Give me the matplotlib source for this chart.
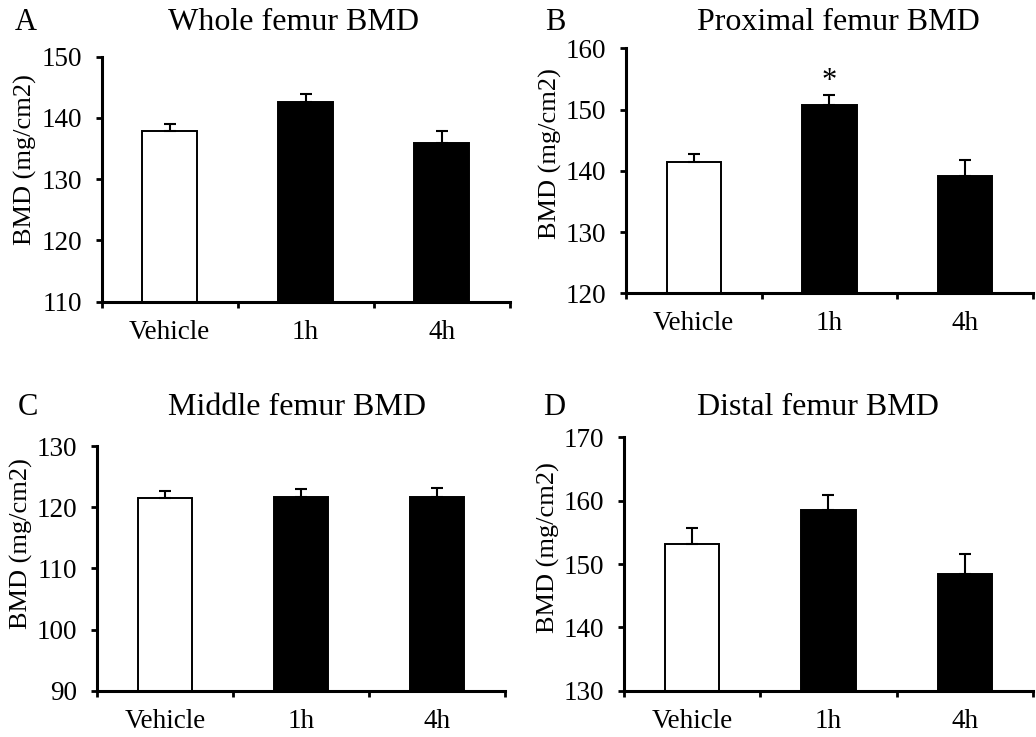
import matplotlib
matplotlib.use("Agg")
import matplotlib.pyplot as plt
import numpy as np

plt.rcParams['font.family'] = ['Liberation Serif', 'DejaVu Serif']

groups = ['Vehicle', '1h', '4h']

whole_mean = [137.9, 142.6, 135.9]
whole_err = [1.1, 1.3, 2.0]

prox_mean = [141.4, 150.7, 139.1]
prox_err = [1.3, 1.7, 2.7]

middle_mean = [121.5, 121.6, 121.6]
middle_err = [1.2, 1.3, 1.6]

distal_mean = [153.2, 158.5, 148.5]
distal_err = [2.5, 2.4, 3.1]

panels = [
    # letter, title, means, errs, ylim, axes rect, title pos, letter pos, ylabel y
    ('A', 'Whole femur BMD', whole_mean, whole_err, (110, 150),
     [0.098, 0.5906, 0.394, 0.3324], (293, 22), (15, 22), 0.58),
    ('B', 'Proximal femur BMD', prox_mean, prox_err, (120, 160),
     [0.6042, 0.602, 0.3929, 0.3324], (838, 22), (545, 23), 0.57),
    ('C', 'Middle femur BMD', middle_mean, middle_err, (90, 130),
     [0.0936, 0.0628, 0.394, 0.332], (297, 407), (18, 407), 0.6),
    ('D', 'Distal femur BMD', distal_mean, distal_err, (130, 170),
     [0.6023, 0.0628, 0.3948, 0.3437], (818, 407), (543, 407), 0.565),
]

W, H = 1036, 737
fig = plt.figure(figsize=(W / 100, H / 100), dpi=100)

x = np.arange(len(groups))
face = ['white', 'black', 'black']

for letter, title, means, errs, ylim, rect, tpos, lpos, ly in panels:
    ax = fig.add_axes(rect)
    ax.bar(x, np.array(means) - ylim[0], bottom=ylim[0], width=0.4,
           color=face, edgecolor='black', linewidth=1.4, zorder=2)
    ax.errorbar(x, means, yerr=[np.zeros(len(errs)), errs], fmt='none',
                ecolor='black', elinewidth=1.5, capsize=4, capthick=1.5, zorder=3)
    ax.set_xlim(-0.5, 2.5)
    ax.set_ylim(*ylim)
    ax.set_yticks(np.arange(ylim[0], ylim[1] + 1, 10))
    ax.set_xticks(x)
    ax.set_xticklabels(groups)
    ax.set_xticks([-0.5, 0.5, 1.5, 2.5], minor=True)
    ax.tick_params(axis='x', which='major', length=0, pad=13, labelsize=19.5)
    ax.tick_params(axis='x', which='minor', length=4, width=2, direction='out')
    ax.tick_params(axis='y', length=4, width=2, direction='out', pad=10, labelsize=19.5)
    for s in ['top', 'right']:
        ax.spines[s].set_visible(False)
    for s in ['left', 'bottom']:
        ax.spines[s].set_linewidth(2.2)
    ax.set_ylabel('BMD (mg/cm2)', fontsize=19, labelpad=3)
    ax.yaxis.label.set_y(ly)
    fig.text(tpos[0] / W, 1 - tpos[1] / H, title, fontsize=23,
             ha='center', va='center')
    fig.text(lpos[0] / W, 1 - lpos[1] / H, letter, fontsize=22,
             ha='left', va='center')
    if letter == 'B':
        ax.text(1, 154.6, '*', fontsize=22, ha='center', va='center')

fig.savefig('out.png', dpi=100)
